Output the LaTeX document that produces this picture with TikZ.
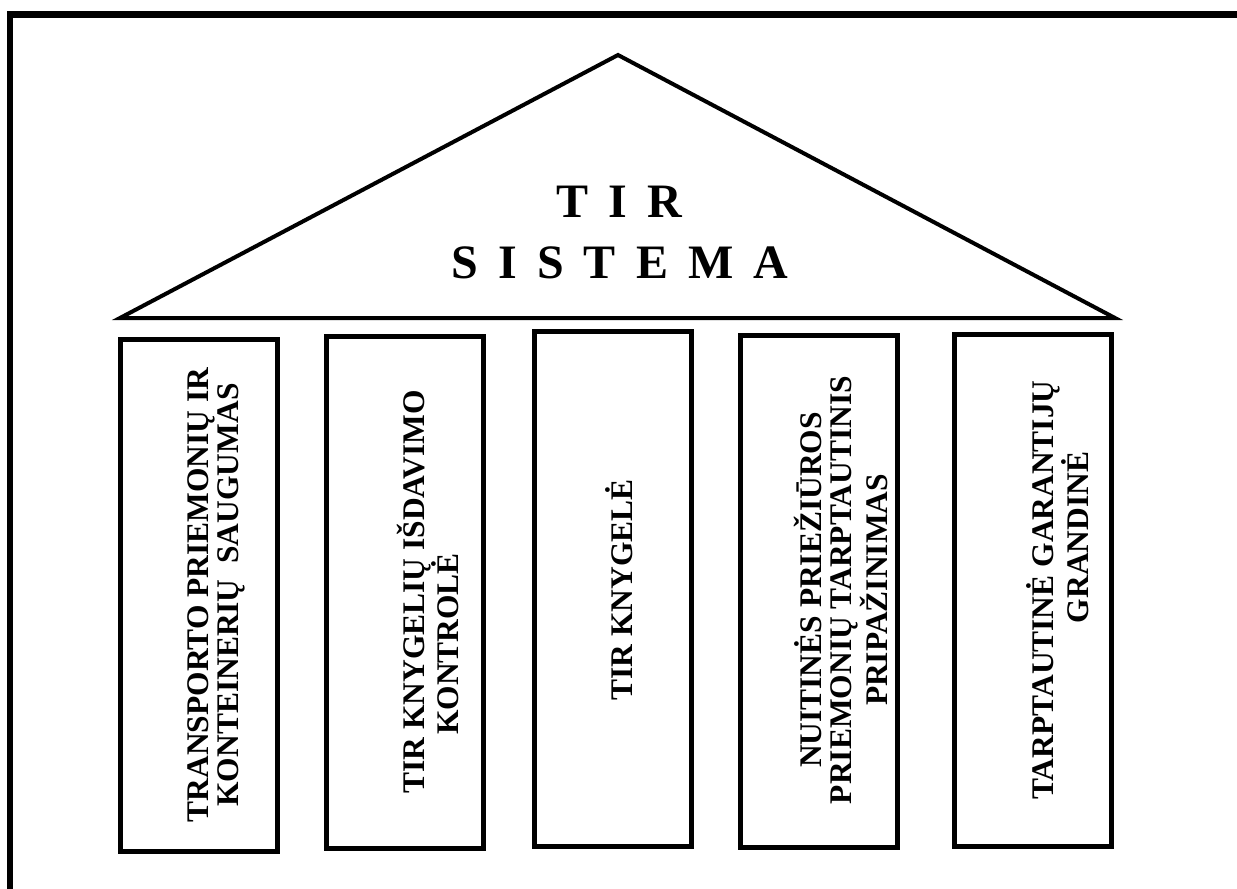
\documentclass[tikz,border=0pt]{standalone}
\usepackage{fontspec}
\setmainfont{Liberation Serif}
\tikzset{
	x=0.75pt, y=-0.75pt, % one unit is one pixel, y runs downward
	frame/.style={line width=4.9pt}, % the thick outer border
	roof/.style={line width=3pt, line join=miter}, % the triangle on top
	pillar/.style={draw, line width=3.75pt, minimum width=117.75pt, minimum height=384pt, inner sep=0pt}, % the five columns
	pillar text/.style={rotate=90, align=center, inner sep=0pt, font=\bfseries\fontsize{23.6}{22.5}\selectfont}, % text set upward
	title/.style={anchor=base, inner sep=0pt, font=\bfseries\fontsize{36}{36}\selectfont}, % the spaced title
}
\newcommand{\tgap}{\hspace{0.42em}}

\begin{document}
\begin{tikzpicture}
	\useasboundingbox (0,0) rectangle (1237,888);
	\clip (0,0) rectangle (1237,888);
	\draw[frame] (10,14.5) rectangle (1270,920);
	% roof
	\coordinate (left) at (120,318);
	\coordinate (right) at (1115,318);
	\coordinate (top) at (618,55);
	\draw[roof] (left) -- (top) -- (right) -- cycle;
	\node[title] (tir) at (619.5,217) {T\tgap I\tgap R};
	\node[title] (sistema) at (620,278) {S\tgap I\tgap S\tgap T\tgap E\tgap M\tgap A};
	% pillars
	\node[pillar] (p1) at (198.5,595) {};
	\node[pillar] (p2) at (404.5,592) {};
	\node[pillar, minimum height=386pt] (p3) at (612.5,589) {};
	\node[pillar] (p4) at (819,591) {};
	\node[pillar] (p5) at (1033,590.5) {};
	\node[pillar text] (t1) at (216,595) {TRANSPORTO PRIEMONIŲ IR\\KONTEINERIŲ\ \ SAUGUMAS};
	\node[pillar text] (t2) at (428,592) {TIR KNYGELIŲ IŠDAVIMO\\KONTROLĖ\rule{78pt}{0pt}};
	\node[pillar text] (t3) at (619,590) {TIR KNYGELĖ};
	\node[pillar text] (t4) at (841,590) {NUITINĖS PRIEŽIŪROS\\PRIEMONIŲ TARPTAUTINIS\\PRIPAŽINIMAS};
	\node[pillar text] (t5) at (1058,590) {TARPTAUTINĖ GARANTIJŲ\\\rule{79pt}{0pt}GRANDINĖ};
\end{tikzpicture}
\end{document}
